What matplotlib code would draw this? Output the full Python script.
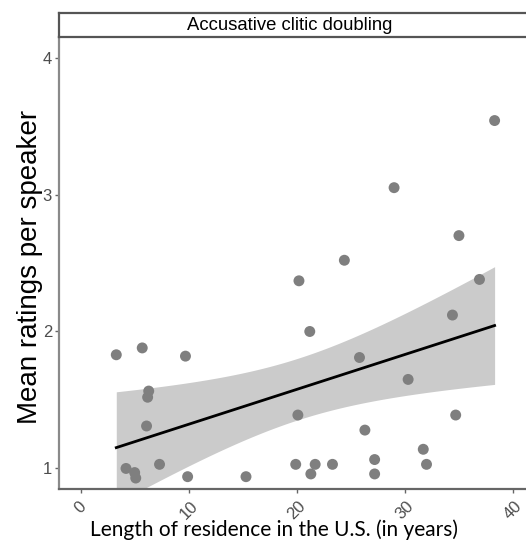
import numpy as np
import matplotlib
matplotlib.use('Agg')
import matplotlib.pyplot as plt

# length of residence (years) and mean rating per speaker
residence = [3.3, 4.2, 5.0, 5.1, 5.7, 6.1, 6.2, 6.3, 7.3, 9.7, 9.9,
             15.3, 19.9, 20.1, 20.2, 21.2, 21.3, 21.7, 23.3, 24.4, 25.8,
             26.3, 27.2, 27.2, 29.0, 30.3, 31.7, 32.0, 34.4, 34.7, 35.0,
             36.9, 38.3]
ratings = [1.83, 1.00, 0.97, 0.93, 1.88, 1.31, 1.52, 1.565, 1.03, 1.82, 0.94,
           0.94, 1.03, 1.39, 2.37, 2.00, 0.96, 1.03, 1.03, 2.52, 1.81,
           1.28, 1.065, 0.96, 3.05, 1.65, 1.14, 1.03, 2.12, 1.39, 2.70,
           2.38, 3.54]
facet_title = 'Accusative clitic doubling'
x_ticks = [0, 10, 20, 30, 40]
y_ticks = [1, 2, 3, 4]

x = np.array(residence)
y = np.array(ratings)
n = len(x)

# linear fit + 95% confidence band (like geom_smooth(method='lm'))
slope, intercept = np.polyfit(x, y, 1)
resid = y - (intercept + slope * x)
s = np.sqrt(np.sum(resid ** 2) / (n - 2))
t_crit = 2.04
xs = np.linspace(x.min(), x.max(), 200)
ys = intercept + slope * xs
se = s * np.sqrt(1.0 / n + (xs - x.mean()) ** 2 / np.sum((x - x.mean()) ** 2))

W, H = 526, 547
fig = plt.figure(figsize=(W / 100, H / 100), dpi=100)
ax_l, ax_r = 59, 534.6
ax_top, ax_bot = 37, 489
ax = fig.add_axes([ax_l / W, (H - ax_bot) / H, (ax_r - ax_l) / W, (ax_bot - ax_top) / H])

ax.fill_between(xs, ys - t_crit * se, ys + t_crit * se, color='#cbcbcb', lw=0, zorder=1)
ax.scatter(x, y, s=62, color='#7f7f7f', edgecolors='none', zorder=2)
ax.plot(xs, ys, color='black', lw=2, zorder=3)

ax.set_xlim(-2, 42)
ax.set_ylim(0.85, 4.15)
ax.set_xticks(x_ticks)
ax.set_yticks(y_ticks)
ax.set_xticklabels([str(t) for t in x_ticks], rotation=45, ha='center', va='top',
                   fontsize=12, color='#4d4d4d', family='Liberation Sans')
ax.set_yticklabels([str(t) for t in y_ticks], fontsize=12, color='#4d4d4d',
                   family='Liberation Sans')
ax.tick_params(axis='x', length=3, width=1, color='#666666', pad=4)
ax.tick_params(axis='y', length=3, width=1, color='#666666', pad=2)
for side in ['top', 'right']:
    ax.spines[side].set_visible(False)
ax.spines['left'].set_color('#8a8a8a')
ax.spines['bottom'].set_color('#666666')
for side in ['left', 'bottom']:
    ax.spines[side].set_linewidth(1.6)

ax.set_ylabel('Mean ratings per speaker', fontsize=20, family='Liberation Sans')
ax.yaxis.set_label_coords((43 - ax_l) / (ax_r - ax_l), (ax_bot - 267) / (ax_bot - ax_top))
fig.text((86 + 462) / 2 / W, 1 - 530 / H, 'Length of residence in the U.S. (in years)',
         ha='center', va='center', fontsize=15, family='Lato')

# facet strip
strip = fig.add_axes([ax_l / W, (H - ax_top) / H, (ax_r - ax_l) / W, 24 / H])
strip.set_xticks([])
strip.set_yticks([])
for sp in strip.spines.values():
    sp.set_color('#555555')
    sp.set_linewidth(1.6)
strip.text((290 - ax_l) / (ax_r - ax_l), 0.5, facet_title, transform=strip.transAxes,
           ha='center', va='center', fontsize=13.3, family='Liberation Sans')

fig.savefig('out.png', dpi=100)
